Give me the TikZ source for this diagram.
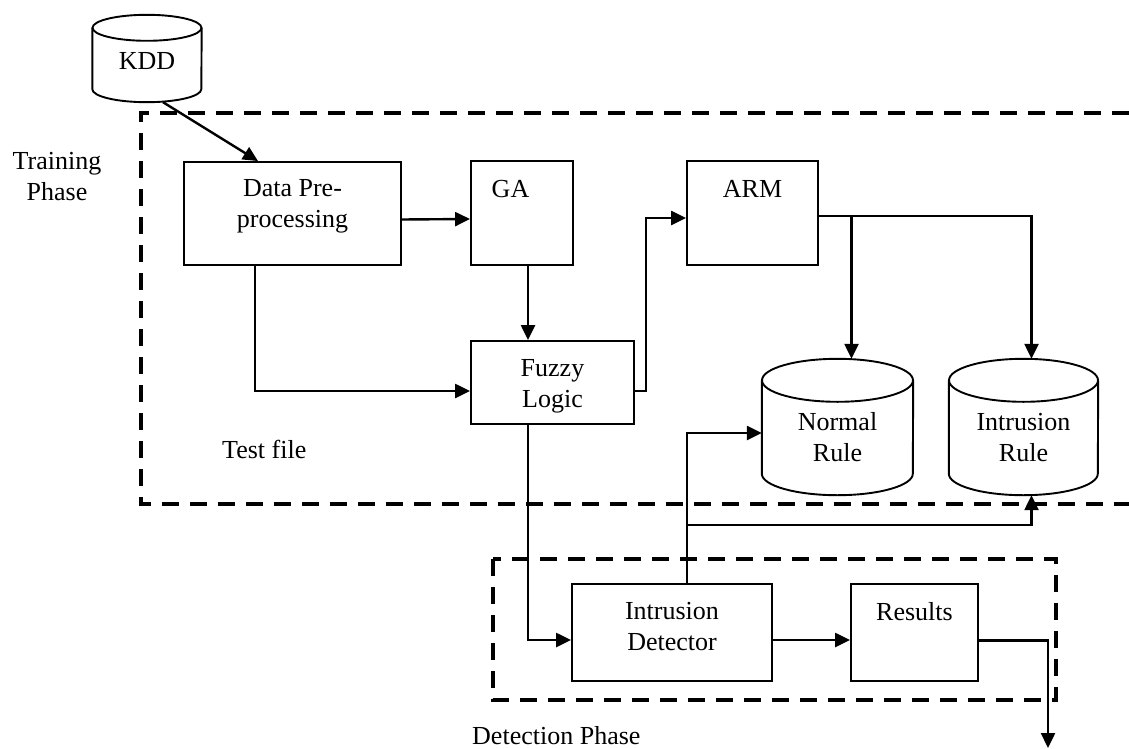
\documentclass[tikz,border=0pt]{standalone}
\usepackage{fontspec}
\setmainfont{Liberation Serif}
\usetikzlibrary{arrows.meta,calc}

% outline of a database drum around a named node: #1 node, #2 x radius, #3 cap radius
\newcommand{\drumat}[3]{%
  \draw[drumline] ($(#1.north)+(0,-#3)$) ellipse [x radius=#2, y radius=#3];
  \draw[drumline] ($(#1.north west)+(0,-#3)$) -- ($(#1.south west)+(0,#3)$)
    arc [start angle=180, end angle=360, x radius=#2, y radius=#3]
    -- ($(#1.north east)+(0,-#3)$);
}

\tikzset{
  box/.style={draw, line width=1.9pt, inner sep=0pt},
  slot/.style={inner sep=0pt},
  % multi-line labels sit on the baseline of their last line
  lbl/.style={font=\fontsize{26}{31}\selectfont, align=center, anchor=base, inner sep=0pt},
  flow/.style={line width=2.4pt, -{Triangle[length=15pt,width=14pt]}},
  phase/.style={line width=4pt, dash pattern=on 17pt off 11pt},
  drumline/.style={line width=1.9pt},
}

\begin{document}
\begin{tikzpicture}[x=1pt, y=1pt]
\useasboundingbox (0,0) rectangle (1129,-749);

% phase frames
\draw[phase] (1129,-113) -- (141,-113) -- (141,-504) -- (1129,-504);
\draw[phase] (493,-559) rectangle (1056,-700);

% process blocks
\node[box, minimum width=217pt, minimum height=103pt] (data) at (292.5,-213.5) {};
\node[box, minimum width=102pt, minimum height=104pt] (ga) at (522,-213) {};
\node[box, minimum width=131pt, minimum height=104pt] (arm) at (752.5,-213) {};
\node[box, minimum width=163pt, minimum height=83pt] (fuzzy) at (552.5,-382.5) {};
\node[box, minimum width=200pt, minimum height=97pt] (det) at (672,-632.5) {};
\node[box, minimum width=127pt, minimum height=97pt] (res) at (914.5,-632.5) {};

% data stores
\node[slot, minimum width=109pt, minimum height=87pt] (kdd) at (147,-58.5) {};
\node[slot, minimum width=151pt, minimum height=136pt] (nr) at (837.5,-427) {};
\node[slot, minimum width=149pt, minimum height=136pt] (ir) at (1023.5,-427) {};
\drumat{kdd}{54.5}{13}
\drumat{nr}{75.5}{21.5}
\drumat{ir}{74.5}{21.5}

% texts
\node[lbl] (kddT) at (147,-70) {KDD};
\node[lbl] (dataT) at (292.5,-227) {Data Pre-\\processing};
\node[lbl] (gaT) at (510.5,-197) {GA};
\node[lbl] (armT) at (752.5,-197) {ARM};
\node[lbl] (fuzzyT) at (552.5,-407) {Fuzzy\\Logic};
\node[lbl] (nrT) at (837.5,-461) {Normal\\Rule};
\node[lbl] (irT) at (1023.5,-461) {Intrusion\\Rule};
\node[lbl] (detT) at (672,-650) {Intrusion\\Detector};
\node[lbl] (resT) at (914.5,-620) {Results};
\node[lbl] (trainT) at (57,-200) {Training\\Phase};
\node[lbl, anchor=base west] (testT) at (222,-458) {Test file};
\node[lbl, anchor=base west] (detectT) at (472,-744) {Detection Phase};

% connectors
\draw[flow] ([xshift=16pt]kdd.south) -- ([xshift=-34.5pt]data.north);
\draw[flow] ([yshift=-6pt]data.east) -- ([yshift=-6pt]ga.west);
\draw[flow] ([xshift=-37.5pt]data.south) |- ([yshift=-8.5pt]fuzzy.west);
\draw[flow] ([xshift=6pt]ga.south) -- ([xshift=6pt]ga.south |- fuzzy.north);
\draw[flow] ([yshift=-8.5pt]fuzzy.east) -- ++(11,0) |- ([yshift=-5pt]arm.west);

\coordinate (armout) at ([yshift=-3pt]arm.east);
\draw[flow] (armout) -| ([xshift=8pt]ir.north);
\draw[flow] ([xshift=14pt]nr.north |- armout) -- ([xshift=14pt]nr.north);

\draw[flow] ([xshift=-24.5pt]fuzzy.south) |- ([yshift=-7.5pt]det.west);
\draw[flow] ([yshift=-7.5pt]det.east) -- ([yshift=-7.5pt]res.west);

\draw[flow] ([xshift=15pt]det.north) |- ([yshift=-6pt]nr.west);
\coordinate (split) at ($([xshift=15pt]det.north)+(0,58)$);
\draw[flow] (split) -| ([xshift=8pt]ir.south);

\coordinate (sink) at (1048,-748);
\draw[flow] ([yshift=-8pt]res.east) -| (sink);
\end{tikzpicture}
\end{document}
